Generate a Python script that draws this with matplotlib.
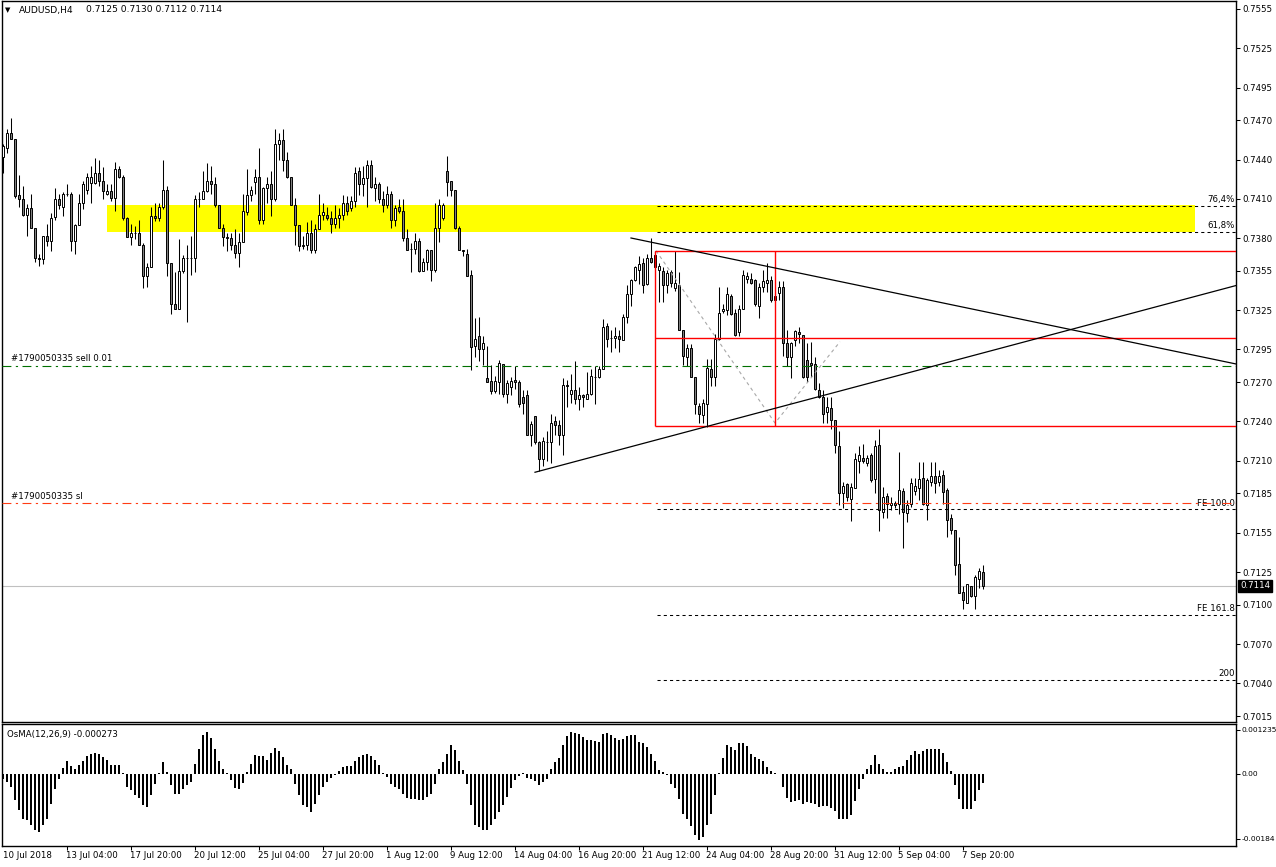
import numpy as np
import matplotlib
matplotlib.use('Agg')
import matplotlib.pyplot as plt
from matplotlib.patches import Rectangle

plt.rcParams['font.family'] = ['DejaVu Sans']

# AUDUSD H4 candles (bar index 0 = 10 Jul 2018)
opens = [
    0.7442, 0.7449, 0.7460, 0.7456, 0.7413, 0.7410, 0.7398, 0.7403, 0.7388, 0.7365,
    0.7364, 0.7382, 0.7378, 0.7396, 0.7410, 0.7404, 0.7414, 0.7414, 0.7378, 0.7390,
    0.7407, 0.7417, 0.7422, 0.7422, 0.7430, 0.7424, 0.7414, 0.7416, 0.7411, 0.7433,
    0.7427, 0.7395, 0.7381, 0.7384, 0.7384, 0.7375, 0.7351, 0.7358, 0.7397, 0.7395,
    0.7404, 0.7417, 0.7361, 0.7330, 0.7326, 0.7355, 0.7365, 0.7365, 0.7365, 0.7410,
    0.7410, 0.7416, 0.7424, 0.7421, 0.7405, 0.7388, 0.7381, 0.7380, 0.7375, 0.7369,
    0.7377, 0.7400, 0.7413, 0.7423, 0.7427, 0.7394, 0.7418, 0.7421, 0.7410, 0.7452,
    0.7455, 0.7440, 0.7427, 0.7405, 0.7390, 0.7374, 0.7375, 0.7384, 0.7371, 0.7387,
    0.7398, 0.7398, 0.7395, 0.7391, 0.7395, 0.7398, 0.7407, 0.7403, 0.7408, 0.7431,
    0.7421, 0.7426, 0.7436, 0.7418, 0.7421, 0.7410, 0.7405, 0.7414, 0.7394, 0.7404,
    0.7401, 0.7380, 0.7372, 0.7372, 0.7378, 0.7355, 0.7362, 0.7371, 0.7356, 0.7388,
    0.7395, 0.7431, 0.7424, 0.7417, 0.7388, 0.7371, 0.7368, 0.7352, 0.7298, 0.7305,
    0.7295, 0.7273, 0.7271, 0.7263, 0.7270, 0.7284, 0.7261, 0.7266, 0.7272, 0.7270,
    0.7259, 0.7260, 0.7230, 0.7244, 0.7224, 0.7211, 0.7224, 0.7224, 0.7240, 0.7237,
    0.7230, 0.7268, 0.7261, 0.7264, 0.7257, 0.7260, 0.7257, 0.7261, 0.7274, 0.7274,
    0.7280, 0.7313, 0.7304, 0.7304, 0.7305, 0.7302, 0.7320, 0.7337, 0.7348, 0.7356,
    0.7361, 0.7345, 0.7365, 0.7367, 0.7356, 0.7355, 0.7344, 0.7354, 0.7342, 0.7344,
    0.7310, 0.7289, 0.7296, 0.7274, 0.7252, 0.7245, 0.7253, 0.7280, 0.7274, 0.7303,
    0.7324, 0.7325, 0.7336, 0.7323, 0.7308, 0.7326, 0.7349, 0.7349, 0.7348, 0.7328,
    0.7343, 0.7346, 0.7348, 0.7333, 0.7338, 0.7343, 0.7300, 0.7289, 0.7302, 0.7308,
    0.7306, 0.7287, 0.7285, 0.7284, 0.7264, 0.7259, 0.7247, 0.7250, 0.7241, 0.7221,
    0.7185, 0.7192, 0.7181, 0.7189, 0.7210, 0.7212, 0.7208, 0.7214, 0.7196, 0.7222,
    0.7171, 0.7183, 0.7176, 0.7178, 0.7177, 0.7187, 0.7170, 0.7177, 0.7187, 0.7189,
    0.7197, 0.7176, 0.7194, 0.7198, 0.7194, 0.7199, 0.7188, 0.7166, 0.7157, 0.7131,
    0.7110, 0.7101, 0.7114, 0.7107, 0.7120, 0.7125]
highs = [
    0.7452, 0.7463, 0.7472, 0.7456, 0.7428, 0.7420, 0.7406, 0.7414, 0.7388, 0.7368,
    0.7382, 0.7391, 0.7399, 0.7418, 0.7414, 0.7415, 0.7421, 0.7415, 0.7391, 0.7414,
    0.7424, 0.7430, 0.7435, 0.7441, 0.7440, 0.7434, 0.7421, 0.7421, 0.7438, 0.7435,
    0.7428, 0.7396, 0.7391, 0.7389, 0.7394, 0.7376, 0.7361, 0.7404, 0.7407, 0.7407,
    0.7440, 0.7420, 0.7361, 0.7354, 0.7379, 0.7367, 0.7375, 0.7382, 0.7413, 0.7415,
    0.7431, 0.7437, 0.7435, 0.7427, 0.7405, 0.7391, 0.7384, 0.7384, 0.7387, 0.7384,
    0.7414, 0.7433, 0.7420, 0.7433, 0.7449, 0.7419, 0.7427, 0.7431, 0.7463, 0.7460,
    0.7463, 0.7446, 0.7427, 0.7411, 0.7390, 0.7382, 0.7392, 0.7394, 0.7391, 0.7414,
    0.7407, 0.7404, 0.7401, 0.7405, 0.7403, 0.7413, 0.7412, 0.7412, 0.7434, 0.7434,
    0.7435, 0.7440, 0.7440, 0.7427, 0.7423, 0.7416, 0.7420, 0.7416, 0.7405, 0.7410,
    0.7410, 0.7387, 0.7376, 0.7384, 0.7380, 0.7365, 0.7372, 0.7371, 0.7407, 0.7410,
    0.7407, 0.7443, 0.7424, 0.7417, 0.7389, 0.7371, 0.7372, 0.7356, 0.7319, 0.7320,
    0.7305, 0.7298, 0.7283, 0.7275, 0.7287, 0.7284, 0.7272, 0.7274, 0.7282, 0.7272,
    0.7264, 0.7264, 0.7240, 0.7244, 0.7225, 0.7228, 0.7233, 0.7246, 0.7244, 0.7241,
    0.7273, 0.7272, 0.7276, 0.7286, 0.7266, 0.7261, 0.7278, 0.7280, 0.7282, 0.7282,
    0.7318, 0.7315, 0.7310, 0.7312, 0.7310, 0.7322, 0.7344, 0.7349, 0.7359, 0.7366,
    0.7365, 0.7368, 0.7380, 0.7370, 0.7361, 0.7358, 0.7356, 0.7356, 0.7370, 0.7354,
    0.7310, 0.7299, 0.7299, 0.7274, 0.7254, 0.7257, 0.7288, 0.7288, 0.7307, 0.7343,
    0.7330, 0.7343, 0.7337, 0.7326, 0.7329, 0.7356, 0.7354, 0.7353, 0.7349, 0.7346,
    0.7356, 0.7361, 0.7351, 0.7338, 0.7347, 0.7347, 0.7310, 0.7301, 0.7310, 0.7312,
    0.7306, 0.7300, 0.7301, 0.7289, 0.7269, 0.7264, 0.7259, 0.7259, 0.7241, 0.7233,
    0.7194, 0.7193, 0.7193, 0.7216, 0.7221, 0.7223, 0.7214, 0.7216, 0.7226, 0.7234,
    0.7190, 0.7185, 0.7182, 0.7179, 0.7217, 0.7189, 0.7180, 0.7197, 0.7197, 0.7209,
    0.7209, 0.7197, 0.7209, 0.7209, 0.7203, 0.7203, 0.7189, 0.7169, 0.7157, 0.7152,
    0.7114, 0.7116, 0.7114, 0.7123, 0.7128, 0.7130]
lows = [
    0.7430, 0.7445, 0.7456, 0.7411, 0.7404, 0.7397, 0.7382, 0.7388, 0.7362, 0.7359,
    0.7360, 0.7374, 0.7370, 0.7394, 0.7402, 0.7397, 0.7412, 0.7370, 0.7368, 0.7390,
    0.7402, 0.7414, 0.7407, 0.7421, 0.7420, 0.7410, 0.7413, 0.7408, 0.7401, 0.7426,
    0.7394, 0.7381, 0.7375, 0.7379, 0.7375, 0.7342, 0.7343, 0.7358, 0.7393, 0.7393,
    0.7402, 0.7351, 0.7322, 0.7326, 0.7326, 0.7353, 0.7316, 0.7352, 0.7354, 0.7404,
    0.7410, 0.7415, 0.7414, 0.7404, 0.7388, 0.7374, 0.7370, 0.7371, 0.7365, 0.7358,
    0.7377, 0.7398, 0.7408, 0.7414, 0.7391, 0.7391, 0.7407, 0.7397, 0.7408, 0.7440,
    0.7431, 0.7426, 0.7405, 0.7375, 0.7370, 0.7372, 0.7371, 0.7369, 0.7369, 0.7387,
    0.7394, 0.7394, 0.7384, 0.7388, 0.7388, 0.7394, 0.7398, 0.7401, 0.7404, 0.7413,
    0.7412, 0.7404, 0.7418, 0.7408, 0.7407, 0.7400, 0.7403, 0.7388, 0.7389, 0.7399,
    0.7378, 0.7371, 0.7354, 0.7368, 0.7354, 0.7355, 0.7356, 0.7347, 0.7354, 0.7377,
    0.7394, 0.7412, 0.7412, 0.7387, 0.7371, 0.7366, 0.7351, 0.7279, 0.7289, 0.7286,
    0.7283, 0.7270, 0.7261, 0.7262, 0.7261, 0.7259, 0.7254, 0.7260, 0.7265, 0.7251,
    0.7246, 0.7230, 0.7221, 0.7223, 0.7202, 0.7206, 0.7210, 0.7208, 0.7230, 0.7222,
    0.7214, 0.7251, 0.7254, 0.7253, 0.7249, 0.7251, 0.7257, 0.7260, 0.7253, 0.7273,
    0.7280, 0.7297, 0.7293, 0.7296, 0.7293, 0.7302, 0.7315, 0.7328, 0.7347, 0.7345,
    0.7338, 0.7344, 0.7361, 0.7358, 0.7331, 0.7331, 0.7338, 0.7343, 0.7340, 0.7310,
    0.7283, 0.7282, 0.7274, 0.7246, 0.7239, 0.7239, 0.7236, 0.7267, 0.7267, 0.7302,
    0.7323, 0.7321, 0.7321, 0.7305, 0.7305, 0.7326, 0.7346, 0.7345, 0.7328, 0.7319,
    0.7339, 0.7339, 0.7331, 0.7331, 0.7333, 0.7290, 0.7282, 0.7273, 0.7298, 0.7300,
    0.7273, 0.7270, 0.7274, 0.7264, 0.7258, 0.7239, 0.7239, 0.7234, 0.7216, 0.7176,
    0.7174, 0.7179, 0.7164, 0.7189, 0.7201, 0.7208, 0.7206, 0.7194, 0.7185, 0.7156,
    0.7166, 0.7166, 0.7172, 0.7174, 0.7169, 0.7143, 0.7163, 0.7175, 0.7184, 0.7180,
    0.7176, 0.7165, 0.7191, 0.7185, 0.7191, 0.7177, 0.7152, 0.7154, 0.7123, 0.7109,
    0.7097, 0.7101, 0.7106, 0.7097, 0.7113, 0.7112]
closes = [
    0.7450, 0.7460, 0.7456, 0.7412, 0.7410, 0.7398, 0.7403, 0.7388, 0.7365, 0.7364,
    0.7382, 0.7378, 0.7395, 0.7410, 0.7405, 0.7414, 0.7414, 0.7378, 0.7390, 0.7407,
    0.7421, 0.7427, 0.7427, 0.7430, 0.7424, 0.7416, 0.7416, 0.7411, 0.7433, 0.7427,
    0.7395, 0.7381, 0.7384, 0.7384, 0.7375, 0.7351, 0.7358, 0.7397, 0.7395, 0.7404,
    0.7417, 0.7361, 0.7330, 0.7326, 0.7355, 0.7365, 0.7365, 0.7365, 0.7410, 0.7410,
    0.7416, 0.7424, 0.7421, 0.7405, 0.7388, 0.7381, 0.7380, 0.7375, 0.7369, 0.7377,
    0.7401, 0.7413, 0.7417, 0.7427, 0.7394, 0.7418, 0.7421, 0.7410, 0.7452, 0.7455,
    0.7440, 0.7427, 0.7405, 0.7390, 0.7374, 0.7375, 0.7384, 0.7371, 0.7387, 0.7398,
    0.7400, 0.7395, 0.7391, 0.7395, 0.7398, 0.7407, 0.7401, 0.7408, 0.7430, 0.7421,
    0.7426, 0.7436, 0.7419, 0.7421, 0.7410, 0.7405, 0.7414, 0.7394, 0.7403, 0.7401,
    0.7380, 0.7371, 0.7372, 0.7378, 0.7355, 0.7362, 0.7371, 0.7356, 0.7388, 0.7405,
    0.7405, 0.7423, 0.7417, 0.7388, 0.7371, 0.7370, 0.7351, 0.7297, 0.7303, 0.7295,
    0.7300, 0.7270, 0.7263, 0.7271, 0.7285, 0.7261, 0.7269, 0.7271, 0.7270, 0.7253,
    0.7254, 0.7230, 0.7238, 0.7224, 0.7211, 0.7225, 0.7224, 0.7239, 0.7237, 0.7230,
    0.7268, 0.7267, 0.7264, 0.7257, 0.7260, 0.7259, 0.7261, 0.7275, 0.7274, 0.7280,
    0.7312, 0.7303, 0.7304, 0.7305, 0.7303, 0.7320, 0.7337, 0.7348, 0.7358, 0.7360,
    0.7344, 0.7365, 0.7362, 0.7358, 0.7359, 0.7344, 0.7353, 0.7346, 0.7346, 0.7310,
    0.7290, 0.7296, 0.7274, 0.7253, 0.7246, 0.7254, 0.7281, 0.7274, 0.7303, 0.7323,
    0.7326, 0.7337, 0.7322, 0.7306, 0.7326, 0.7352, 0.7351, 0.7346, 0.7330, 0.7343,
    0.7347, 0.7348, 0.7333, 0.7336, 0.7343, 0.7300, 0.7289, 0.7300, 0.7309, 0.7307,
    0.7274, 0.7274, 0.7283, 0.7265, 0.7259, 0.7246, 0.7251, 0.7241, 0.7222, 0.7185,
    0.7191, 0.7182, 0.7190, 0.7211, 0.7214, 0.7210, 0.7212, 0.7195, 0.7221, 0.7172,
    0.7182, 0.7177, 0.7178, 0.7176, 0.7188, 0.7171, 0.7176, 0.7193, 0.7191, 0.7196,
    0.7177, 0.7195, 0.7198, 0.7193, 0.7198, 0.7186, 0.7165, 0.7157, 0.7130, 0.7109,
    0.7104, 0.7116, 0.7107, 0.7121, 0.7126, 0.7114]

# OsMA(12,26,9) histogram, in millionths
osma_e6 = [
    -160, -235, -376, -752, -1034, -1269, -1316, -1457, -1598, -1645,
    -1457, -1269, -846, -423, -141, 160, 348, 207, 141, 235,
    348, 489, 545, 583, 545, 470, 376, 254, 235, 235,
    28, -376, -470, -592, -686, -893, -940, -592, -282, 28,
    329, 47, -329, -583, -564, -423, -329, -235, 282, 705,
    1081, 1175, 1006, 705, 348, 141, 28, -188, -395, -423,
    -263, 47, 282, 517, 489, 489, 376, 583, 724, 630,
    470, 235, 141, -282, -592, -893, -940, -1081, -846, -611,
    -376, -235, -122, -47, 66, 188, 207, 216, 348, 470,
    536, 564, 489, 376, 235, 28, -94, -282, -376, -423,
    -564, -686, -724, -724, -752, -752, -658, -564, -282, 141,
    329, 564, 818, 658, 348, 94, -282, -893, -1457, -1504,
    -1598, -1598, -1457, -1269, -1081, -893, -658, -395, -188, -66,
    28, -122, -141, -216, -310, -235, -141, 141, 329, 442,
    818, 1062, 1175, 1147, 1128, 1034, 959, 940, 921, 893,
    1128, 1147, 1081, 1006, 940, 987, 1062, 1081, 1081, 893,
    874, 752, 564, 348, 94, 47, -47, -282, -395, -724,
    -1128, -1269, -1476, -1739, -1880, -1786, -1438, -1128, -592, 28,
    442, 799, 752, 658, 855, 855, 780, 564, 470, 423,
    348, 188, 66, 28, 5, -376, -686, -799, -780, -752,
    -846, -799, -818, -865, -940, -912, -912, -968, -1062, -1269,
    -1288, -1269, -1156, -780, -442, -160, 141, 235, 517, 282,
    141, 47, 47, 141, 188, 207, 376, 517, 639, 564,
    630, 705, 705, 705, 705, 583, 329, 66, -310, -705,
    -987, -987, -987, -771, -470, -273]

time_labels = ['10 Jul 2018', '13 Jul 04:00', '17 Jul 20:00', '20 Jul 12:00',
               '25 Jul 04:00', '27 Jul 20:00', '1 Aug 12:00', '9 Aug 12:00',
               '14 Aug 04:00', '16 Aug 20:00', '21 Aug 12:00', '24 Aug 04:00',
               '28 Aug 20:00', '31 Aug 12:00', '5 Sep 04:00', '7 Sep 20:00']
price_ticks = [0.7555, 0.7525, 0.7495, 0.7470, 0.7440, 0.7410, 0.7380, 0.7355,
               0.7325, 0.7295, 0.7270, 0.7240, 0.7210, 0.7185, 0.7155, 0.7125,
               0.7100, 0.7070, 0.7040, 0.7015]
osma_ticks = [0.001235, 0.0, -0.00184]
osma_tick_labels = ['0.001235', '0.00', '-0.00184']
last_price = 0.7114

W, H = 1276, 867
FS = 6.2
PX = 1 / 13094  # price per pixel on the main panel


def fx(px):
    return px / W


def fy(py):
    return 1 - py / H


fig = plt.figure(figsize=(W / 100, H / 100), dpi=100)
fig.patch.set_facecolor('white')

ax = fig.add_axes([fx(2), fy(722), fx(1236) - fx(2), fy(1) - fy(722)])
ax2 = fig.add_axes([fx(2), fy(846), fx(1236) - fx(2), fy(724) - fy(846)])

idx = np.arange(len(opens))
o = np.array(opens)
h = np.array(highs)
l = np.array(lows)
c = np.array(closes)
up = c >= o

# candles
ax.vlines(idx, l, h, color='black', lw=0.75, zorder=3)
ax.bar(idx, np.abs(c - o), bottom=np.minimum(o, c), width=0.62,
       color=np.where(up, 'white', '#808080'), edgecolor='black',
       linewidth=0.7, zorder=4)

xr = 308.25
ax.set_xlim(-0.25, xr)
ax.set_ylim(0.701047, 0.75611)

# yellow zone + fibo levels
ax.add_patch(Rectangle((26, 0.73847), 272, 0.00206, facecolor='#ffff00',
                       edgecolor='none', zorder=1))
for lev in [0.74046, 0.73847]:
    ax.hlines(lev, 163.5, xr, color='black', lw=0.75, ls=(0, (3, 3)), zorder=5)
ax.text(308, 0.74046 + 6 * PX, '76,4%', ha='right', va='center', fontsize=FS)
ax.text(308, 0.73847 + 6 * PX, '61,8%', ha='right', va='center', fontsize=FS)

# FE levels
for lev in [0.71729, 0.70922, 0.70426]:
    ax.hlines(lev, 163.5, xr, color='black', lw=0.75, ls=(0, (3, 3)), zorder=5)
ax.text(308, 0.71729 + 6 * PX, 'FE 100.0', ha='right', va='center', fontsize=FS)
ax.text(308, 0.70922 + 6 * PX, 'FE 161.8', ha='right', va='center', fontsize=FS)
ax.text(308, 0.70426 + 6 * PX, '200', ha='right', va='center', fontsize=FS)

# order lines
ax.axhline(0.72827, color='#007000', lw=0.8, ls=(0, (8, 4, 2, 4)), zorder=5)
ax.text(2, 0.72827 + 7 * PX, '#1790050335 sell 0.01', ha='left', va='center', fontsize=FS)
ax.axhline(0.71775, color='#ff3c14', lw=0.8, ls=(0, (8, 4, 2, 4)), zorder=5)
ax.text(2, 0.71775 + 7 * PX, '#1790050335 sl', ha='left', va='center', fontsize=FS)
ax.axhline(last_price, color='#c0c0c0', lw=0.8, zorder=2)

# red box
for lev in [0.73704, 0.73035, 0.72365]:
    ax.hlines(lev, 163, xr, color='red', lw=1, zorder=6)
ax.vlines([163, 193.1], 0.72365, 0.73704, color='red', lw=1, zorder=6)

# trend lines
ax.plot([157, xr], [0.73801, 0.72839], color='black', lw=0.9, zorder=6)
ax.plot([133, xr], [0.72012, 0.73438], color='black', lw=0.9, zorder=6)
ax.plot([163.25, 193, 209.25], [0.73704, 0.72388, 0.73009], color='#a8a8a8',
        lw=0.8, ls=(0, (3, 3)), zorder=5)

ax.yaxis.tick_right()
ax.set_yticks(price_ticks)
ax.set_yticklabels([f'{p:.4f}' for p in price_ticks], fontsize=FS)
ax.tick_params(axis='y', direction='out', length=3, width=0.75, pad=1.5)
ax.set_xticks([])

# OsMA panel
osma = np.array(osma_e6) * 1e-6
ax2.bar(idx, osma, width=0.68, color='black', zorder=3)
ax2.set_xlim(-0.25, xr)
ax2.set_ylim(-0.002039, 0.001402)
ax2.yaxis.tick_right()
ax2.set_yticks(osma_ticks)
ax2.set_yticklabels(osma_tick_labels, fontsize=5.4)
ax2.tick_params(axis='y', direction='out', length=3, width=0.75, pad=1)
ax2.set_xticks(np.arange(16, 246, 16))
ax2.set_xticklabels([])
ax2.tick_params(axis='x', direction='out', length=3, width=0.75)
fig.text(fx(7), fy(734), 'OsMA(12,26,9) -0.000273', ha='left', va='center', fontsize=FS)

for a in (ax, ax2):
    for s in a.spines.values():
        s.set_color('black')
        s.set_linewidth(1)

# time axis labels
for k, lab in enumerate(time_labels):
    xp = 3 + 4 * 16 * k
    fig.text(fx(xp - 1 if k else 3), fy(856), lab, ha='left', va='center', fontsize=FS)

# header
fig.text(fx(5), fy(10), '\u25bc', ha='left', va='center', fontsize=5)
fig.text(fx(19), fy(10), 'AUDUSD,H4', ha='left', va='center', fontsize=6.6)
fig.text(fx(86), fy(10), '0.7125 0.7130 0.7112 0.7114', ha='left', va='center',
         fontsize=6.6)

# last price tag
fig.text(fx(1240), fy(586), f'{last_price:.4f}', color='white', ha='left',
         va='center', fontsize=FS,
         bbox=dict(facecolor='black', edgecolor='black', pad=1.2))

fig.savefig('out.png', dpi=100)
